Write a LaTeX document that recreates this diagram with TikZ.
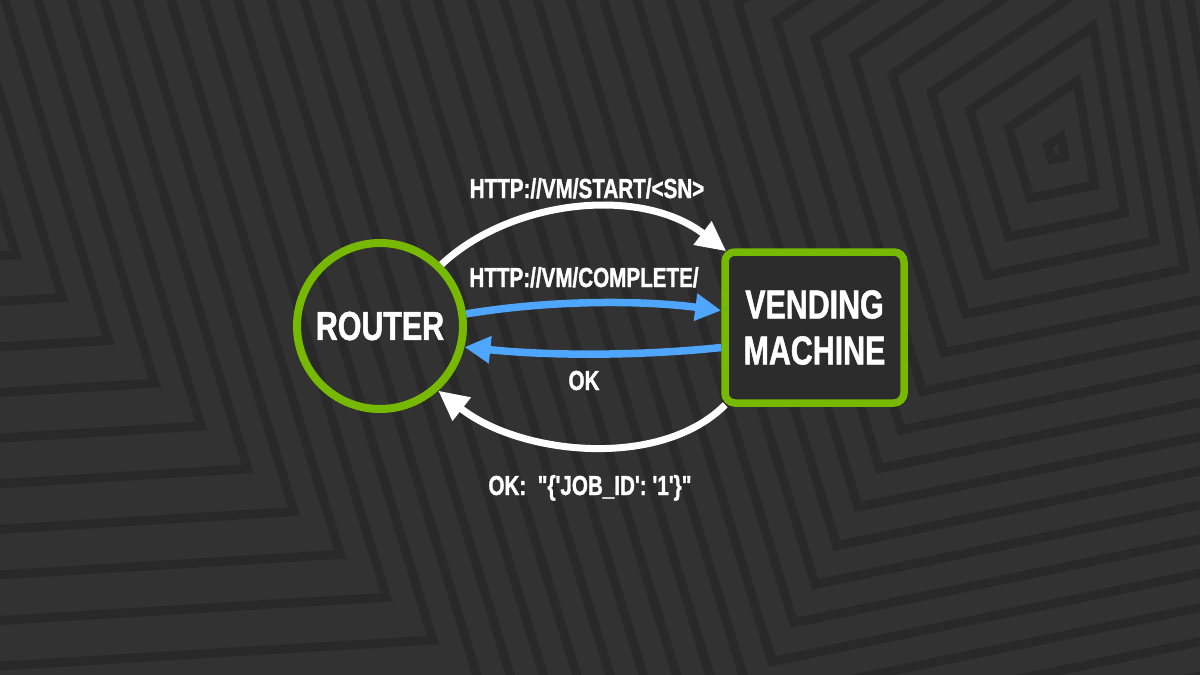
\documentclass[tikz,border=0pt]{standalone}
\usepackage{fontspec}
\newfontfamily\condfont{Liberation Sans}[FakeStretch=0.75, BoldFeatures={FakeBold=1.2}]
\usetikzlibrary{arrows.meta,shadows}
\definecolor{bgc}{HTML}{323232}
\definecolor{stripec}{HTML}{292929}
\definecolor{nvgreen}{HTML}{76B900}
\definecolor{arrowblue}{HTML}{4FA6FF}
\definecolor{boxfill}{HTML}{2C2C2C}
\begin{document}
\begin{tikzpicture}[x=1pt,y=-1pt,
  stripe/.style={draw=stripec, line width=9pt, line join=miter},
  lbl/.style={text=white, font=\condfont\bfseries\fontsize{27.5}{30}\selectfont, inner sep=0pt, anchor=base},
  bigtext/.style={text=white, font=\condfont\bfseries\fontsize{40.5}{46}\selectfont},
  whitearrow/.style={draw=white, line width=7pt, -{Triangle[length=30pt,width=28pt]}},
  bluearrow/.style={draw=arrowblue, line width=7.5pt, -{Triangle[length=26pt,width=26pt]}}]
\fill[bgc] (0,0) rectangle (1200,675);
\useasboundingbox (0,0) rectangle (1200,675);
% concentric quadrilaterals around the upper-right centre
\begin{scope}
  \clip (-300,-37) -- (800,979) -- (1500,979) -- (1500,-300) -- (-300,-300) -- cycle;
  \foreach \k in {0.25,1.25,...,44.25} {
    \draw[stripe] ({1057+16*\k},{150-55*\k}) -- ({1057-38.7*\k},{150-17.8*\k})
      -- ({1057-21.5*\k},{150+38.6*\k}) -- ({1057+30*\k},{150+28*\k}) -- cycle;
  }
\end{scope}
% the same stripes turning left below the lower-left diagonal
\begin{scope}
  \clip (-300,-37) -- (800,979) -- (-300,979) -- cycle;
  \foreach \k in {0.25,1.25,...,44.25} {
    \pgfmathsetmacro{\ax}{1057-38.7*\k}
    \pgfmathsetmacro{\ay}{150-17.8*\k}
    \pgfmathsetmacro{\dx}{17.2*\k}
    \pgfmathsetmacro{\dy}{56.4*\k}
    \pgfmathsetmacro{\t}{(265+0.924*(\ax-27)-\ay)/(\dy-0.924*\dx)}
    \draw[stripe] ({\ax+\t*\dx+20},{\ay+\t*\dy-1.2}) -- ++(-1400,84);
  }
\end{scope}
% nodes
\node[circle, draw=nvgreen, line width=8pt, minimum size=166pt, inner sep=0pt, bigtext] (router) at (380,326) {ROUTER};
\node[draw=nvgreen, line width=7.5pt, rounded corners=10pt, fill=boxfill, minimum width=179pt, minimum height=151pt,
      inner sep=0pt, align=center, bigtext,
      drop shadow={shadow xshift=3pt, shadow yshift=-3pt, opacity=0.45, fill=black}] (vm) at (814.5,327.5) {VENDING\\MACHINE};
% labels
\node[lbl] (lstart) at (587,198) {HTTP://VM/START/<SN>};
\node[lbl] (lcomplete) at (584,287) {HTTP://VM/COMPLETE/};
\node[lbl] (lok) at (584,390) {OK};
\node[lbl] (ljob) at (590,495) {OK:\ \ "\{'JOB\_ID': '1'\}"};
% connectors
\draw[whitearrow] (router.45) .. controls (510,200) and (640,185) .. ([shift={(5pt,-3pt)}]vm.north west);
\draw[bluearrow] (router.8) .. controls (550,300) and (640,300) .. ([yshift=17pt]vm.west);
\draw[bluearrow] ([yshift=-20pt]vm.west) .. controls (640,356) and (550,356) .. (router.-14);
\draw[whitearrow] ([shift={(4pt,2pt)}]vm.south west) .. controls (660,470) and (520,455) .. (router.-48);
\end{tikzpicture}
\end{document}
